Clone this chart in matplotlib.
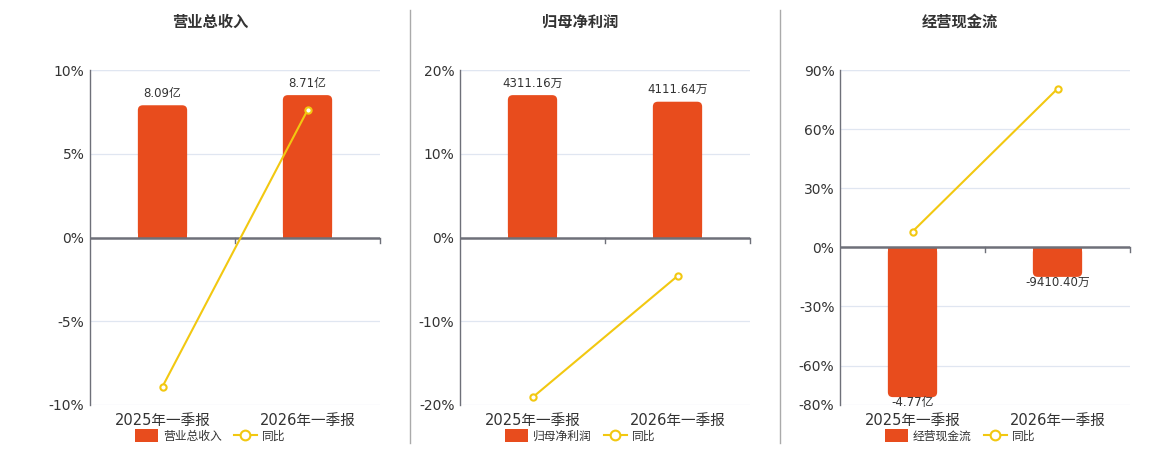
import matplotlib
matplotlib.use("Agg")
import matplotlib.pyplot as plt
from matplotlib.lines import Line2D
from matplotlib.patches import Patch, FancyBboxPatch, Rectangle

plt.rcParams['font.family'] = ['DejaVu Sans', 'Noto Sans CJK SC']

# data
categories = ['2025年一季报', '2026年一季报']

titles = ['营业总收入', '归母净利润', '经营现金流']
bar_values = [[8.09e8, 8.71e8], [4311.16e4, 4111.64e4], [-4.77e8, -9410.40e4]]
bar_labels = [['8.09亿', '8.71亿'], ['4311.16万', '4111.64万'], ['-4.77亿', '-9410.40万']]
yoy = [[-8.9, 7.6], [-19.1, -4.6], [8.0, 80.5]]

pct_ticks = [[-10, -5, 0, 5, 10], [-20, -10, 0, 10, 20], [-80, -60, -30, 0, 30, 60, 90]]
pct_limits = [(-10, 10), (-20, 20), (-80, 90)]

BAR_COLOR = '#e84c1d'
LINE_COLOR = '#f2c811'
TEXT = '#333333'
AXIS = '#6e7079'
GRID = '#e0e6f1'

fig = plt.figure(figsize=(11.6, 4.5), dpi=100)

lefts = [90, 460, 840]
fill = [0.85, 0.85, 0.95]
AX_W, AX_H = 290, 335
RADIUS_PX = 5

for i in range(3):
    ax = fig.add_axes([lefts[i] / 1160, 45 / 450, AX_W / 1160, AX_H / 450])
    ax2 = ax.twinx()
    lo, hi = pct_limits[i]
    ax.set_ylim(lo, hi)
    ax.set_xlim(-0.5, 1.5)
    ax2.set_xlim(-0.5, 1.5)

    # bar axis scaled so zero lines match
    vals = bar_values[i]
    vmax = max(abs(v) for v in vals)
    if max(vals) > 0:
        k = vmax / (fill[i] * hi)
    else:
        k = vmax / (fill[i] * -lo)
    ax2.set_ylim(lo * k, hi * k)
    ax2.axis('off')

    x = range(len(categories))
    bars = ax2.bar(x, vals, width=0.34, color=BAR_COLOR, zorder=2)

    # rounded end away from zero
    xu = 2.0 / AX_W
    yu = (hi - lo) * k / AX_H
    for rect in bars:
        bx, by = rect.get_x(), rect.get_y()
        bw, bh = rect.get_width(), rect.get_height()
        rect.set_visible(False)
        ylow, h = min(by, by + bh), abs(bh)
        ax2.add_patch(FancyBboxPatch((bx, ylow), bw, h,
                                     boxstyle=f"round,pad=0,rounding_size={RADIUS_PX * xu}",
                                     mutation_aspect=yu / xu, facecolor=BAR_COLOR,
                                     edgecolor='none', zorder=2))
        sq_y = ylow if bh >= 0 else ylow + h / 2
        ax2.add_patch(Rectangle((bx, sq_y), bw, h / 2, facecolor=BAR_COLOR,
                                edgecolor='none', zorder=2))

    for xi, v, lab in zip(x, vals, bar_labels[i]):
        if v >= 0:
            ax2.annotate(lab, (xi, v), xytext=(0, 4), textcoords='offset points',
                         ha='center', va='bottom', fontsize=8.5, color=TEXT)
        else:
            ax2.annotate(lab, (xi, v), xytext=(0, 1), textcoords='offset points',
                         ha='center', va='top', fontsize=8.5, color=TEXT)

    ax.set_zorder(ax2.get_zorder() + 1)
    ax.patch.set_visible(False)
    ax.plot(x, yoy[i], color=LINE_COLOR, lw=1.5, marker='o', ms=4.5,
            markerfacecolor='white', markeredgecolor=LINE_COLOR, markeredgewidth=1.5, zorder=3)

    ax.set_yticks(pct_ticks[i])
    ax.set_yticklabels([f'{t}%' for t in pct_ticks[i]])
    for t in pct_ticks[i]:
        if t != 0:
            ax2.axhline(t * k, color=GRID, lw=0.9, zorder=0)
    ax2.axhline(hi * k, color=GRID, lw=0.9, zorder=0)
    ax.axhline(0, color=AXIS, lw=1.8, zorder=1)
    ax.set_xticks([0, 1])
    ax.set_xticklabels(categories)
    ax.tick_params(axis='x', length=0, labelsize=10.5, colors=TEXT, pad=6)
    ax.tick_params(axis='y', length=0, labelsize=10, colors=TEXT, pad=4)
    for s in ['top', 'right', 'bottom']:
        ax.spines[s].set_visible(False)
    ax.spines['left'].set_color(AXIS)
    ax.spines['left'].set_linewidth(1.0)
    # small ticks on zero axis at category boundaries
    for bx in [0.5, 1.5]:
        ax.plot([bx, bx], [0, -(hi - lo) * 0.015], color=AXIS, lw=1, clip_on=False)

    fig.text((lefts[i] + 120) / 1160, 1 - 22 / 450, titles[i], ha='center', va='center',
             fontsize=11, fontweight='bold', color=TEXT)

    handles = [Patch(facecolor=BAR_COLOR, edgecolor='none'),
               Line2D([], [], color=LINE_COLOR, lw=1.5, marker='o', ms=7,
                      markerfacecolor='white', markeredgewidth=1.5)]
    fig.legend(handles, [titles[i], '同比'], loc='center',
               bbox_to_anchor=((lefts[i] + 120) / 1160, 1 - 436 / 450),
               ncol=2, frameon=False, fontsize=8.5, handlelength=2.0, handleheight=1.2,
               handletextpad=0.4, columnspacing=1.0, labelcolor=TEXT)

# separators
for sx in [410, 780]:
    fig.add_artist(Line2D([sx / 1160, sx / 1160], [1 - 443 / 450, 1 - 10 / 450],
                          color='#aaaaaa', lw=1))

fig.savefig('out.png', dpi=100)
